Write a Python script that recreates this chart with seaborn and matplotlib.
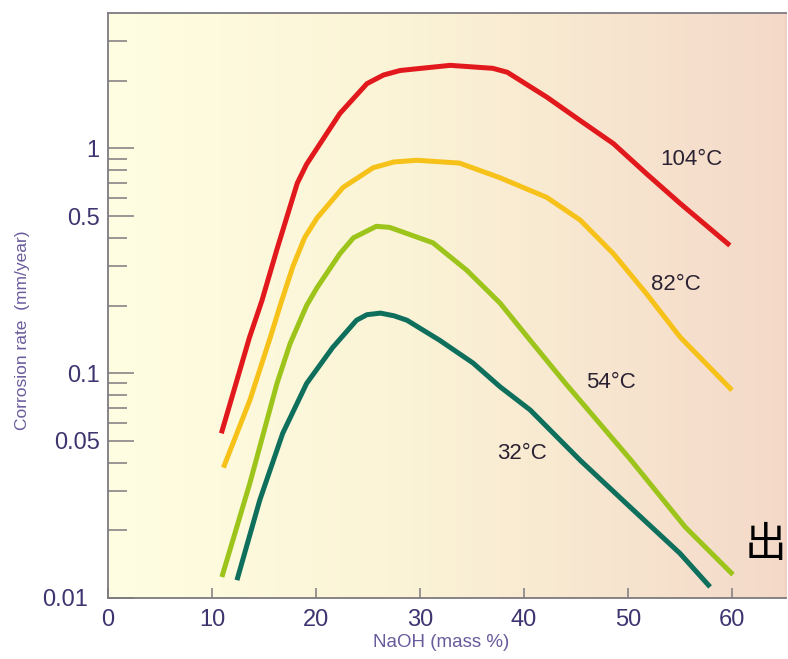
import matplotlib
matplotlib.use("Agg")

import matplotlib.pyplot as plt
import matplotlib.transforms as mtransforms
from matplotlib.colors import LinearSegmentedColormap
from matplotlib.ticker import FixedLocator, FixedFormatter, NullFormatter
import numpy as np
import pandas as pd
import seaborn as sns

# ------------------------------------------------------------------------------
# Data (NaOH mass %, corrosion rate mm/year)
# ------------------------------------------------------------------------------
temps = ["104°C", "82°C", "54°C", "32°C"]

naoh_104 = [10.9, 13.6, 14.8, 16.25, 18.2, 19.1, 20.1, 22.3, 24.9, 26.5, 28.1, 32.9,
            37.0, 38.4, 42.2, 45.4, 48.6, 51.8, 55.0, 59.8]
rate_104 = [0.054, 0.144, 0.21, 0.356, 0.70, 0.85, 1.0, 1.43, 1.94, 2.12, 2.22, 2.34,
            2.27, 2.18, 1.69, 1.33, 1.05, 0.77, 0.57, 0.37]

naoh_82 = [11.1, 13.65, 15.6, 16.7, 17.8, 18.9, 20.1, 22.6, 25.5, 27.5, 29.7, 33.8,
           37.7, 42.2, 45.4, 48.6, 51.8, 55.0, 60.0]
rate_82 = [0.038, 0.076, 0.144, 0.21, 0.30, 0.40, 0.49, 0.67, 0.82, 0.87, 0.885, 0.86,
           0.74, 0.605, 0.48, 0.34, 0.225, 0.145, 0.084]

naoh_54 = [10.95, 13.65, 16.25, 17.5, 19.1, 20.1, 22.3, 23.6, 25.8, 27.1, 31.25, 34.5,
           37.7, 40.6, 44.0, 50.3, 55.5, 60.1]
rate_54 = [0.0124, 0.0325, 0.090, 0.135, 0.20, 0.24, 0.34, 0.40, 0.45, 0.445, 0.38,
           0.287, 0.205, 0.14, 0.090, 0.041, 0.0207, 0.0127]

naoh_32 = [12.4, 14.6, 16.8, 19.1, 21.6, 23.9, 24.9, 26.2, 27.5, 28.75, 31.9, 35.1,
           37.7, 40.6, 45.4, 50.2, 55.0, 57.9]
rate_32 = [0.012, 0.0273, 0.054, 0.090, 0.13, 0.172, 0.182, 0.185, 0.18, 0.172, 0.14,
           0.111, 0.087, 0.0686, 0.041, 0.0254, 0.0158, 0.0112]

label_x = [56.1, 54.6, 48.4, 39.8]
label_y = [0.89, 0.249, 0.0912, 0.044]

y_major = [0.01, 0.05, 0.1, 0.5, 1]
y_major_labels = ["0.01", "0.05", "0.1", "0.5", "1"]
y_minor = [0.02, 0.03, 0.04, 0.06, 0.07, 0.08, 0.09,
           0.2, 0.3, 0.4, 0.6, 0.7, 0.8, 0.9, 2, 3]
x_ticks = [0, 10, 20, 30, 40, 50, 60]

# ------------------------------------------------------------------------------
# Style
# ------------------------------------------------------------------------------
sns.set_theme(style="white")
plt.rcParams["font.family"] = ["Liberation Sans", "DejaVu Sans"]

palette = {"104°C": "#e2191c", "82°C": "#f6c219", "54°C": "#9dc41a", "32°C": "#0f6f5d"}
_TICK_TXT = "#3e3470"
_LABEL_TXT = "#6a5b9c"
_SPINE = "#7d7a80"

df = pd.concat([
    pd.DataFrame({"naoh": x, "rate": y, "temp": t})
    for t, x, y in zip(temps,
                       [naoh_104, naoh_82, naoh_54, naoh_32],
                       [rate_104, rate_82, rate_54, rate_32])
], ignore_index=True)

fig = plt.figure(figsize=(7.88, 6.59), dpi=100)
ax = fig.add_axes([108 / 788, 1 - 598 / 659, 678 / 788, 585 / 659])
ax.set_yscale("log")
ax.set_xlim(0, 65.2)
ax.set_ylim(0.01, 4.0)

# warm background gradient
bg = LinearSegmentedColormap.from_list(
    "warm", [(0.0, "#fffee2"), (0.45, "#fbf3d6"), (1.0, "#f4d9c9")])
ax.imshow(np.linspace(0, 1, 256).reshape(1, -1), cmap=bg, aspect="auto",
          extent=[0, 1, 0, 1], transform=ax.transAxes, zorder=0)

sns.lineplot(data=df, x="naoh", y="rate", hue="temp", palette=palette,
             estimator=None, sort=False, linewidth=3.6, legend=False, ax=ax,
             zorder=3)
for ln in ax.get_lines():
    ln.set_solid_capstyle("butt")
    ln.set_solid_joinstyle("round")

for t, lx, ly in zip(temps, label_x, label_y):
    ax.text(lx, ly, t, fontsize=16, color="#2b2233", ha="center", va="center",
            zorder=4)

# axes and ticks
for side in ["left", "bottom", "top", "right"]:
    ax.spines[side].set_color(_SPINE)
    ax.spines[side].set_linewidth(1.3)
ax.spines["right"].set_color("#f0d0c4")

ax.yaxis.set_major_locator(FixedLocator(y_major))
ax.yaxis.set_major_formatter(FixedFormatter(y_major_labels))
ax.yaxis.set_minor_locator(FixedLocator(y_minor))
ax.yaxis.set_minor_formatter(NullFormatter())
ax.set_xticks(x_ticks)

ax.tick_params(axis="y", which="major", left=True, direction="in", length=19,
               width=1.1, color=_SPINE, pad=6, labelsize=17, labelcolor=_TICK_TXT)
ax.tick_params(axis="y", which="minor", left=True, direction="in", length=14,
               width=1.1, color=_SPINE)
ax.tick_params(axis="x", which="major", bottom=True, direction="in", length=7,
               width=1.1, color=_SPINE, pad=8, labelsize=17, labelcolor=_TICK_TXT)

shift = mtransforms.ScaledTranslation(-12 / 100, 0, fig.dpi_scale_trans)
lab01 = ax.get_yticklabels()[0]
lab01.set_transform(lab01.get_transform() + shift)

ax.set_xlabel("NaOH (mass %)", fontsize=13.5, color=_LABEL_TXT)
ax.set_ylabel("Corrosion rate  (mm/year)", fontsize=12.5, color=_LABEL_TXT)
ax.xaxis.set_label_coords((441 - 108) / 678, (598 - 634) / 585)
ax.yaxis.set_label_coords((30 - 108) / 678, (598 - 330) / 585)

fig.text(745 / 788, 1 - 545 / 659, "出", fontsize=30, color="black",
         family=["Noto Sans CJK SC", "DejaVu Sans"], ha="left", va="center")

fig.savefig("out.png", dpi=100, facecolor="white")
plt.close(fig)
